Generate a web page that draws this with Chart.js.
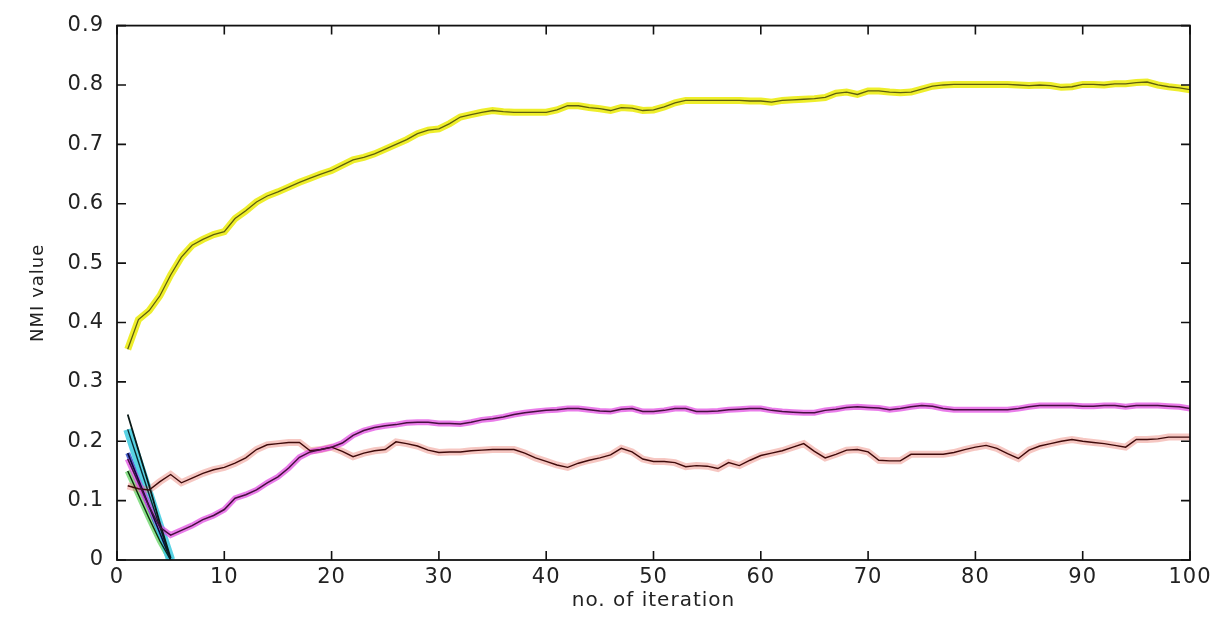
<!DOCTYPE html>
<html>
<head>
<meta charset="utf-8">
<script src="https://cdn.jsdelivr.net/npm/chart.js@4.4.0/dist/chart.umd.min.js"></script>
<style>
  html, body { margin: 0; padding: 0; background: #fff; }
  #wrap { width: 1225px; height: 618px; }
</style>
</head>
<body>
<div id="wrap"><canvas id="grafico" width="1225" height="618"></canvas></div>
<script>
// iteration numbers for the three long curves
var iterations = [];
for (var i = 1; i <= 100; i++) iterations.push(i);

var yellowVals = [0.355,0.405,0.42,0.445,0.48,0.51,0.53,0.54,0.548,0.553,
  0.575,0.588,0.603,0.613,0.62,0.628,0.636,0.643,0.65,0.656,
  0.665,0.674,0.678,0.684,0.692,0.70,0.708,0.718,0.724,0.726,
  0.735,0.746,0.75,0.754,0.757,0.755,0.754,0.754,0.754,0.754,
  0.758,0.765,0.765,0.762,0.76,0.757,0.762,0.761,0.757,0.758,
  0.763,0.77,0.774,0.774,0.774,0.774,0.774,0.774,0.773,0.773,
  0.771,0.774,0.775,0.776,0.777,0.779,0.786,0.788,0.784,0.79,
  0.79,0.788,0.787,0.788,0.793,0.798,0.80,0.801,0.801,0.801,
  0.801,0.801,0.801,0.80,0.799,0.80,0.799,0.796,0.797,0.801,
  0.801,0.80,0.802,0.802,0.804,0.805,0.80,0.797,0.795,0.792];

var magentaVals = [0.17,0.13,0.09,0.055,0.042,0.05,0.058,0.068,0.075,0.085,
  0.104,0.11,0.118,0.13,0.14,0.155,0.173,0.182,0.186,0.19,
  0.197,0.21,0.218,0.223,0.226,0.228,0.231,0.232,0.232,0.23,
  0.23,0.229,0.232,0.236,0.238,0.241,0.245,0.248,0.25,0.252,
  0.253,0.255,0.255,0.253,0.251,0.25,0.254,0.255,0.25,0.25,
  0.252,0.255,0.255,0.25,0.25,0.251,0.253,0.254,0.255,0.255,
  0.252,0.25,0.249,0.248,0.248,0.252,0.254,0.257,0.258,0.257,
  0.256,0.253,0.255,0.258,0.26,0.259,0.255,0.253,0.253,0.253,
  0.253,0.253,0.253,0.255,0.258,0.26,0.26,0.26,0.26,0.259,
  0.259,0.26,0.26,0.258,0.26,0.26,0.26,0.259,0.258,0.255];

var redVals = [0.125,0.12,0.118,0.132,0.144,0.13,0.138,0.146,0.152,0.156,
  0.163,0.172,0.186,0.194,0.196,0.198,0.198,0.184,0.186,0.19,
  0.183,0.174,0.18,0.184,0.186,0.199,0.196,0.192,0.185,0.181,
  0.182,0.182,0.184,0.185,0.186,0.186,0.186,0.18,0.172,0.166,
  0.16,0.156,0.163,0.168,0.172,0.177,0.188,0.182,0.17,0.166,
  0.166,0.164,0.157,0.159,0.158,0.154,0.164,0.159,0.168,0.176,
  0.18,0.184,0.19,0.196,0.183,0.172,0.178,0.185,0.186,0.182,
  0.168,0.167,0.167,0.178,0.178,0.178,0.178,0.181,0.186,0.19,
  0.193,0.188,0.179,0.171,0.185,0.192,0.196,0.20,0.203,0.20,
  0.198,0.196,0.193,0.19,0.203,0.203,0.204,0.207,0.207,0.207];

// short curves that fall to zero in the first iterations
var dropIters = [1, 2, 3, 4, 5];
var blackDrop = [0.245, 0.185, 0.125, 0.062, 0.003];
var cyanDrop  = [0.22, 0.165, 0.11, 0.055, 0.0];
var blueDrop  = [0.18, 0.135, 0.09, 0.045, 0.0];
var greenDrop = [0.15, 0.11, 0.07, 0.032, 0.0];

var xTickLabels = ['0','10','20','30','40','50','60','70','80','90','100'];
var yTickLabels = ['0','0.1','0.2','0.3','0.4','0.5','0.6','0.7','0.8','0.9'];

function puntos(xs, ys) {
  var out = [];
  for (var k = 0; k < xs.length; k++) out.push({x: xs[k], y: ys[k]});
  return out;
}

function serie(data, color, width, orden) {
  return {
    data: data,
    borderColor: color,
    borderWidth: width,
    pointRadius: 0,
    tension: 0,
    fill: false,
    order: orden
  };
}

// MATLAB-like box with inward ticks on all four sides
var cajaPlugin = {
  id: 'caja',
  beforeDraw: function (chart) {
    chart.ctx.letterSpacing = '1px';
  },
  afterDraw: function (chart) {
    var ctx = chart.ctx;
    var a = chart.chartArea;
    var xs = chart.scales.x, ys = chart.scales.y;
    var len = 9;
    ctx.save();
    ctx.strokeStyle = '#111';
    ctx.lineWidth = 1.6;
    ctx.beginPath();
    xs.ticks.forEach(function (t) {
      var px = xs.getPixelForValue(t.value);
      ctx.moveTo(px, a.bottom); ctx.lineTo(px, a.bottom - len);
      ctx.moveTo(px, a.top); ctx.lineTo(px, a.top + len);
    });
    ys.ticks.forEach(function (t) {
      var py = ys.getPixelForValue(t.value);
      ctx.moveTo(a.left, py); ctx.lineTo(a.left + len, py);
      ctx.moveTo(a.right, py); ctx.lineTo(a.right - len, py);
    });
    ctx.stroke();
    ctx.lineWidth = 1.8;
    ctx.strokeRect(a.left, a.top, a.right - a.left, a.bottom - a.top);
    ctx.restore();
  }
};

var ctx = document.getElementById('grafico').getContext('2d');
var myChart = new Chart(ctx, {
  type: 'line',
  data: {
    labels: iterations,
    datasets: [
      serie(yellowVals, 'rgba(236,236,20,0.9)', 7, 3),
      serie(magentaVals, 'rgba(225,70,225,0.7)', 6, 3),
      serie(redVals, 'rgba(235,130,120,0.45)', 7, 3),
      serie(puntos(dropIters, cyanDrop), 'rgba(70,205,225,0.9)', 9, 3),
      serie(puntos(dropIters, blueDrop), 'rgba(40,70,200,0.8)', 5, 3),
      serie(puntos(dropIters, greenDrop), 'rgba(60,200,60,0.6)', 6, 3),
      serie(yellowVals, '#5e5e10', 1.3, 1),
      serie(magentaVals, '#45103e', 1.5, 1),
      serie(redVals, '#3e0a0a', 1.4, 1),
      serie(puntos(dropIters, blackDrop), '#0a1a18', 1.8, 1),
      serie(puntos(dropIters, cyanDrop), '#0a2a30', 1.4, 1),
      serie(puntos(dropIters, blueDrop), '#0a0a40', 1.6, 1),
      serie(puntos(dropIters, greenDrop), '#0a300a', 1.4, 1)
    ]
  },
  options: {
    responsive: false,
    animation: false,
    events: [],
    layout: { padding: { left: 0, top: 23, right: 35, bottom: 0 } },
    plugins: {
      legend: { display: false },
      tooltip: { enabled: false }
    },
    scales: {
      x: {
        type: 'linear',
        min: 0,
        max: 100,
        grid: { display: false, drawTicks: false },
        border: { display: false },
        ticks: {
          stepSize: 10,
          padding: 5,
          color: '#222',
          font: { family: 'DejaVu Sans', size: 21 },
          maxRotation: 0,
          callback: function (v, idx) { return xTickLabels[idx]; }
        },
        title: {
          display: true,
          text: 'no. of iteration',
          color: '#222',
          font: { family: 'DejaVu Sans', size: 20 },
          padding: { top: 0, bottom: 5 }
        },
        afterFit: function (scale) { scale.height = 58; }
      },
      y: {
        min: 0,
        max: 0.9,
        grid: { display: false, drawTicks: false },
        border: { display: false },
        ticks: {
          stepSize: 0.1,
          padding: 13,
          color: '#222',
          font: { family: 'DejaVu Sans', size: 21 },
          callback: function (v, idx) { return yTickLabels[idx]; }
        },
        title: {
          display: true,
          text: 'NMI value',
          color: '#222',
          font: { family: 'DejaVu Sans', size: 18 },
          padding: { top: 28, bottom: 0 }
        },
        afterFit: function (scale) { scale.width = 117; }
      }
    }
  },
  plugins: [cajaPlugin]
});
</script>
</body>
</html>
